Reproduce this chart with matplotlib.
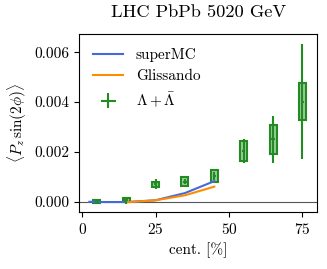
import matplotlib
matplotlib.use('Agg')
import matplotlib.pyplot as plt
from matplotlib.patches import Rectangle

plt.rcParams['font.family'] = 'serif'
plt.rcParams['font.serif'] = ['cmr10']
plt.rcParams['mathtext.fontset'] = 'cm'
plt.rcParams['axes.formatter.use_mathtext'] = True
plt.rcParams['font.size'] = 11

# model curves
smc_x = [2.5, 7.5, 15, 25, 35, 45]
smc_y = [-0.00001, -0.00002, -0.00002, 0.00005, 0.00034, 0.00082]
gl_x = [15, 25, 35, 45]
gl_y = [-0.00003, 0.00005, 0.00025, 0.0006]

# data
cent = [5, 15, 25, 35, 45, 55, 65, 75]
val = [0.0, 0.00005, 0.0007, 0.0008, 0.00103, 0.00203, 0.0025, 0.00402]
stat = [0.00003, 0.00013, 0.0002, 0.0001, 0.00015, 0.0005, 0.00095, 0.0023]
syst = [0.00005, 0.00008, 0.0001, 0.00017, 0.00024, 0.0004, 0.00057, 0.00076]

fig, ax = plt.subplots(figsize=(3.27, 2.69), dpi=100)
fig.subplots_adjust(left=0.242, right=0.97, top=0.873, bottom=0.212)

ax.axhline(0, color='#555555', lw=0.8)
ax.plot(smc_x, smc_y, color='royalblue', lw=1.5, label='superMC')
ax.plot(gl_x, gl_y, color='darkorange', lw=1.5, label='Glissando')

for c, v, s in zip(cent, val, syst):
    ax.add_patch(Rectangle((c - 1.2, v - s), 2.4, 2 * s,
                           facecolor=(0.133, 0.545, 0.133, 0.45),
                           edgecolor='forestgreen', lw=1.5))
ax.errorbar(cent, val, yerr=stat, xerr=0.6, fmt='none', ecolor='forestgreen',
            elinewidth=1.5, capsize=0, label=r'$\Lambda+\bar{\Lambda}$')

ax.set_xlim(-1, 80)
ax.set_ylim(-0.00042, 0.00673)
ax.set_xticks([0, 25, 50, 75])
ax.set_yticks([0.0, 0.002, 0.004, 0.006])
ax.set_yticklabels(['0.000', '0.002', '0.004', '0.006'])
ax.set_xlabel('cent. [%]')
ax.set_ylabel(r'$\langle P_z\,\sin(2\phi)\rangle$')
ax.set_title('LHC PbPb 5020 GeV', pad=12)
ax.legend(loc='upper left', frameon=False)

fig.savefig('out.png')
